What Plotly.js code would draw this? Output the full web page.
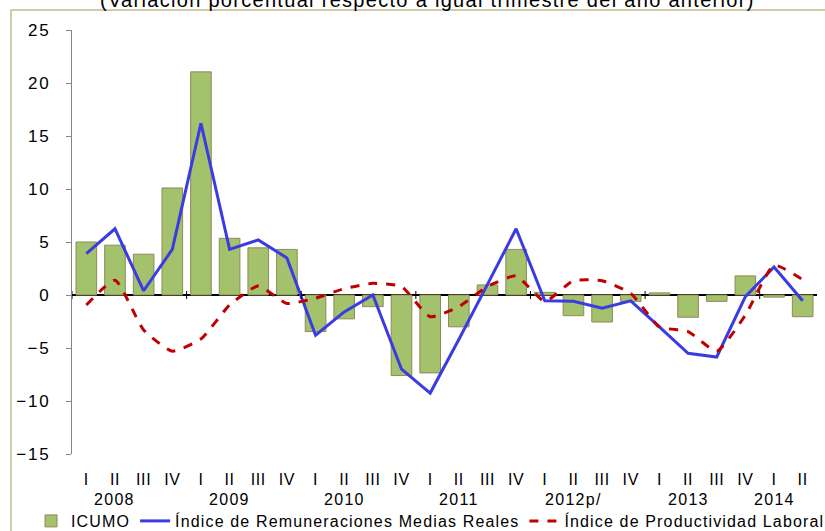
<!DOCTYPE html>
<html>
<head>
<meta charset="utf-8">
<script src="https://cdn.plot.ly/plotly-3.0.1.min.js"></script>
<style>
  html, body { margin: 0; padding: 0; background: #ffffff; }
  #chart { width: 825px; height: 531px; }
  .ytick text { letter-spacing: 1.8px; }
  .xtick text { letter-spacing: 0.6px; }
  .legendtext { letter-spacing: 1.15px; }
  .annotation-text { letter-spacing: 1.3px; }
</style>
</head>
<body>
<div id="chart"></div>
<script>
// ---- Data ----
var years = ["2008", "2009", "2010", "2011", "2012p/", "2013", "2014"];
var quartersPerYear = [4, 4, 4, 4, 4, 4, 2];
var quarterNames = ["I", "II", "III", "IV"];

var icumo = [5.0, 4.7, 3.85, 10.1, 21.05, 5.35, 4.45, 4.3,
             -3.45, -2.25, -1.1, -7.6, -7.35, -3.0, 0.95, 4.3,
             0.25, -1.95, -2.55, -0.6, 0.2, -2.1, -0.6, 1.8,
             -0.2, -2.05];
var remuneraciones = [3.9, 6.25, 0.4, 4.3, 16.2, 4.3, 5.2, 3.5,
                      -3.8, -1.6, 0.0, -7.0, -9.25, -4.2, 1.0, 6.25,
                      -0.55, -0.6, -1.25, -0.55, -3.0, -5.5, -5.85, -0.15,
                      2.65, -0.55];
var productividad = [-0.95, 1.4, -3.3, -5.3, -4.15, -0.95, 0.85, -0.8,
                     -0.3, 0.6, 1.1, 0.8, -2.05, -1.1, 0.8, 1.8,
                     -0.6, 1.35, 1.35, 0.15, -3.0, -3.45, -5.3, -1.9,
                     2.8, 1.45];

var titleText = "(Variación porcentual respecto a igual trimestre del año anterior)";
var names = ["ICUMO", "Índice de Remuneraciones Medias Reales", "Índice de Productividad Laboral"];

// ---- Build category positions ----
var qLabels = [];
var yearCenters = [];
var boundaries = [];
var idx = 0;
for (var i = 0; i < years.length; i++) {
  var start = idx;
  for (var q = 0; q < quartersPerYear[i]; q++) { qLabels.push(quarterNames[q]); idx++; }
  yearCenters.push((start + idx - 1) / 2);
  boundaries.push(idx - 0.5);
}
var xs = qLabels.map(function (_, k) { return k; });

var FONT = "Liberation Sans, Arial, Helvetica, sans-serif";

var traces = [
  {
    type: "bar", name: names[0], x: xs, y: icumo, width: 0.72,
    marker: { color: "#A4C16B", line: { color: "#8E8A5C", width: 1 } }
  },
  {
    type: "scatter", mode: "lines", name: names[1], x: xs, y: remuneraciones,
    line: { color: "#3B3BE3", width: 3 }
  },
  {
    type: "scatter", mode: "lines", name: names[2], x: xs, y: productividad,
    line: { color: "#C00000", width: 3, dash: "dash", shape: "spline", smoothing: 0.5 }
  }
];

var shapes = [
  // outer chart border (tan)
  { type: "rect", xref: "paper", yref: "paper",
    x0: (11 - 72) / 745, x1: 1.2, y0: -0.5, y1: (454 - 10) / 424,
    line: { color: "#C4BA90", width: 1.5 }, layer: "below" }
];
// year separator ticks crossing the zero line
var tickMarks = [-0.5].concat(boundaries.slice(0, boundaries.length - 1));
tickMarks.forEach(function (b) {
  shapes.push({ type: "line", xref: "x", yref: "y", x0: b, x1: b, y0: 0.38, y1: -0.38,
                line: { color: "#000000", width: 1 } });
});

var annotations = [
  { text: titleText, xref: "paper", yref: "paper", x: (427 - 72) / 745, y: (454 - 0) / 424,
    xanchor: "center", yanchor: "middle", showarrow: false,
    font: { family: FONT, size: 20, color: "#000000" } }
];
yearCenters.forEach(function (c, i) {
  annotations.push({ text: years[i], xref: "x", yref: "paper", x: c - 0.5, y: (454 - 499) / 424,
    xanchor: "center", yanchor: "middle", showarrow: false,
    font: { family: FONT, size: 16, color: "#000000" } });
});

var layout = {
  width: 825, height: 531,
  margin: { l: 72, r: 8, t: 30, b: 77, autoexpand: false },
  paper_bgcolor: "#ffffff", plot_bgcolor: "#ffffff",
  showlegend: true,
  legend: {
    orientation: "h", x: -0.055, xanchor: "left", y: (454 - 521) / 424, yanchor: "middle",
    font: { family: FONT, size: 16, color: "#000000" },
    traceorder: "normal", itemwidth: 30, tracegroupgap: 0, bgcolor: "rgba(0,0,0,0)"
  },
  bargap: 0.28,
  xaxis: {
    range: [-0.5, xs.length - 0.5],
    tickmode: "array", tickvals: xs, ticktext: qLabels,
    ticks: "outside", ticklen: 11, tickcolor: "rgba(0,0,0,0)",
    showgrid: false, zeroline: false, showline: false,
    tickfont: { family: FONT, size: 16, color: "#000000" },
    fixedrange: true
  },
  yaxis: {
    range: [-15, 25], tickmode: "linear", tick0: -15, dtick: 5,
    ticks: "outside", ticklen: 5, tickcolor: "#868686", tickwidth: 1,
    showline: true, linecolor: "#868686", linewidth: 1,
    showgrid: false, zeroline: true, zerolinecolor: "#000000", zerolinewidth: 1.5,
    tickfont: { family: FONT, size: 17, color: "#000000" },
    ticklabelstandoff: 12, fixedrange: true
  },
  shapes: shapes,
  annotations: annotations
};

Plotly.newPlot("chart", traces, layout, { displayModeBar: false, staticPlot: true });
</script>
</body>
</html>
